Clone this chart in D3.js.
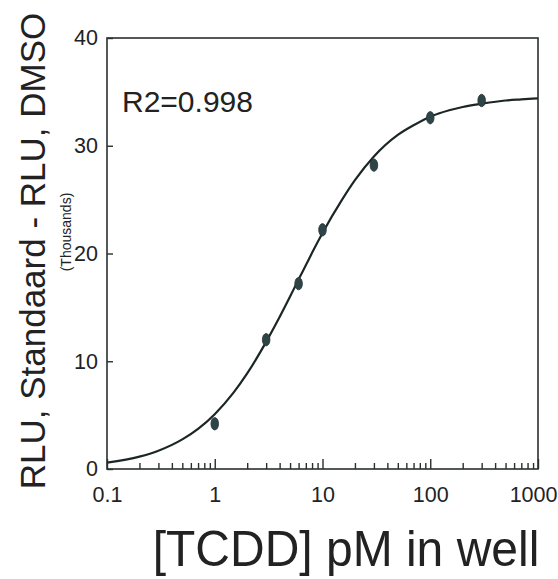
<!DOCTYPE html>
<html>
<head>
<meta charset="utf-8">
<script src="https://cdn.jsdelivr.net/npm/d3@7"></script>
<style>
  html, body { margin: 0; padding: 0; background: #fff; }
  svg { display: block; font-family: "Liberation Sans", Arial, Helvetica, sans-serif; }
</style>
</head>
<body>
<svg id="chart" width="558" height="579"></svg>
<script>
// Measured data points (TCDD pM, RLU thousands)
const doseValues = [1, 3, 6, 10, 30, 100, 300];
const rluValues = [4.2, 12.0, 17.2, 22.2, 28.2, 32.6, 34.2];

// Fitted curve
const curveX = [0.1, 0.2, 0.3, 0.5, 0.7, 1, 1.5, 2, 3, 4, 5, 6, 7, 8, 10, 15, 20, 30, 50, 70, 100, 150, 200, 300, 500, 700, 1000];
const curveY = [0.59, 1.15, 1.7, 2.75, 3.73, 5.09, 7.11, 8.87, 11.8, 14.1, 16.0, 17.6, 18.9, 20.06, 21.9, 24.9, 26.8, 29.0, 31.0, 31.9, 32.7, 33.3, 33.6, 33.9, 34.2, 34.3, 34.4];

// Axis ticks
const xMajorTicks = [0.1, 1, 10, 100, 1000];
const xTickLabels = ["0.1", "1", "10", "100", "1000"];
const xMinorTicks = [0.2,0.3,0.4,0.5,0.6,0.7,0.8,0.9, 2,3,4,5,6,7,8,9, 20,30,40,50,60,70,80,90, 200,300,400,500,600,700,800,900];
const yTicks = [0, 10, 20, 30, 40];

const annotation = "R2=0.998";
const xTitle = "[TCDD] pM in well";
const yTitle = "RLU, Standaard - RLU, DMSO";
const yUnit = "(Thousands)";

const svg = d3.select("#chart");
const L = 107, R = 538, T = 38, B = 469;
const ink = "#2a2f30";

const x = d3.scaleLog().domain([0.1, 1000]).range([L, R]);
const y = d3.scaleLinear().domain([0, 40]).range([B, T]);

// minor x ticks
const gMinor = svg.append("g").attr("transform", `translate(0,${B})`)
  .call(d3.axisBottom(x).tickValues(xMinorTicks).tickSize(-6).tickFormat(""));
// major x ticks with labels
const gMajor = svg.append("g").attr("transform", `translate(0,${B})`)
  .call(d3.axisBottom(x).tickValues(xMajorTicks).tickSize(-10).tickPadding(18)
    .tickFormat((d, i) => xTickLabels[i]));
// y ticks
const gY = svg.append("g").attr("transform", `translate(${L},0)`)
  .call(d3.axisLeft(y).tickValues(yTicks).tickSize(-6).tickPadding(9).tickFormat(d3.format("d")));

[gMinor, gMajor, gY].forEach(g => {
  g.select(".domain").remove();
  g.selectAll(".tick line").attr("stroke", ink).attr("stroke-width", 1.4);
  g.selectAll(".tick text").attr("fill", "#222").style("font-size", "21.5px");
});
// keep the last label inside the picture, as in the reference where it touches the edge
gMajor.selectAll(".tick text").filter((d, i) => i === xMajorTicks.length - 1)
  .attr("text-anchor", "end").attr("x", 557 - x(1000));

// frame
svg.append("rect").attr("x", L).attr("y", T).attr("width", R - L).attr("height", B - T)
  .attr("fill", "none").attr("stroke", ink).attr("stroke-width", 1.6);

// fitted curve
const curvePts = curveX.map((d, i) => [d, curveY[i]]);
svg.append("path").datum(curvePts)
  .attr("d", d3.line().x(d => x(d[0])).y(d => y(d[1])).curve(d3.curveMonotoneX))
  .attr("fill", "none").attr("stroke", "#1c2626").attr("stroke-width", 2.2);

// data points
svg.append("g").selectAll("ellipse").data(doseValues).join("ellipse")
  .attr("cx", d => x(d)).attr("cy", (d, i) => y(rluValues[i]))
  .attr("rx", 3.8).attr("ry", 6.2)
  .attr("fill", "#2f4446").attr("stroke", "#243436").attr("stroke-width", 0.8);

// annotation
svg.append("text").attr("x", 122).attr("y", 112).attr("fill", "#222")
  .style("font-size", "30px").text(annotation);

// axis titles
svg.append("text").attr("transform", `translate(${(152 + 540) / 2},566) scale(0.96,1)`)
  .attr("text-anchor", "middle")
  .attr("fill", "#222").style("font-size", "50px").text(xTitle);

svg.append("text").attr("transform", `translate(45,251) rotate(-90)`)
  .attr("text-anchor", "middle").attr("fill", "#222").style("font-size", "35px").text(yTitle);

svg.append("text").attr("transform", `translate(71,232) rotate(-90)`)
  .attr("text-anchor", "middle").attr("fill", "#222").style("font-size", "14px").text(yUnit);
</script>
</body>
</html>
